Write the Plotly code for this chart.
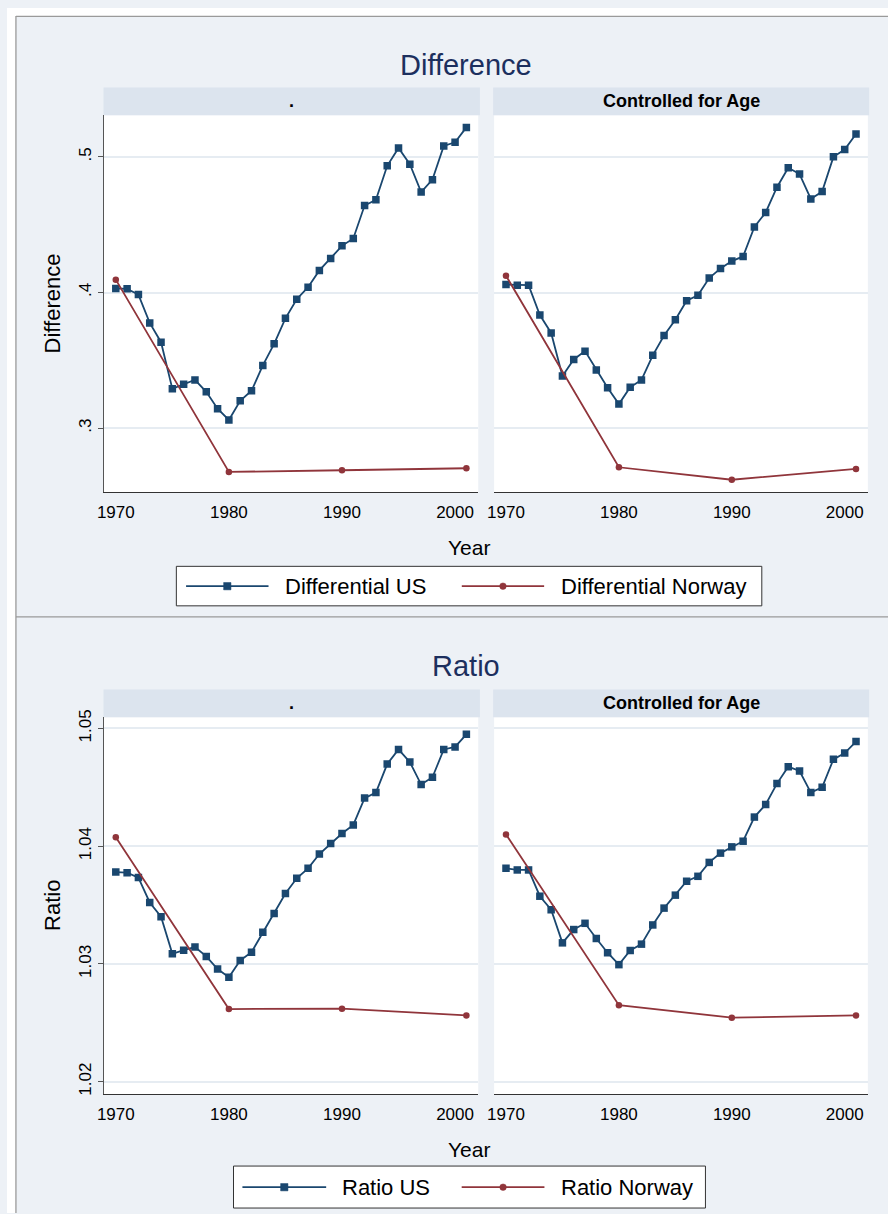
import plotly.graph_objects as go

# ---------------- data ----------------
years = list(range(1970, 2002))
years_norway = [1970, 1980, 1990, 2001]

diff_us = [0.403, 0.4027, 0.3985, 0.3776, 0.3634, 0.329, 0.3324, 0.3356, 0.3268, 0.3144,
           0.3061, 0.3202, 0.3276, 0.3463, 0.3622, 0.381, 0.3951, 0.4039, 0.4163, 0.4251,
           0.4344, 0.4398, 0.4641, 0.4683, 0.4934, 0.5066, 0.4946, 0.4741, 0.4832, 0.508,
           0.5107, 0.5217]
diff_norway = [0.4095, 0.2678, 0.269, 0.2705]

diff_us_age = [0.4059, 0.4054, 0.4054, 0.3834, 0.3702, 0.3385, 0.3507, 0.3568, 0.3429, 0.3298,
               0.3178, 0.3302, 0.3356, 0.3537, 0.3683, 0.380, 0.3939, 0.398, 0.4107, 0.4178,
               0.4232, 0.4266, 0.4483, 0.459, 0.4776, 0.492, 0.4873, 0.469, 0.4744, 0.500,
               0.5054, 0.5168]
diff_norway_age = [0.4124, 0.2712, 0.262, 0.270]

ratio_us = [1.0378, 1.03775, 1.03733, 1.03522, 1.03401, 1.03086, 1.03117, 1.03143, 1.03064, 1.02957,
            1.02887, 1.0303, 1.031, 1.03269, 1.03429, 1.03598, 1.03727, 1.03812, 1.03933, 1.04022,
            1.04107, 1.0418, 1.04408, 1.04455, 1.04697, 1.04821, 1.04714, 1.04523, 1.04585, 1.04821,
            1.04843, 1.0495]
ratio_norway = [1.04076, 1.02617, 1.0262, 1.02563]

ratio_us_age = [1.03812, 1.03798, 1.03798, 1.03575, 1.0346, 1.03179, 1.03292, 1.03345, 1.03216, 1.03095,
                1.02994, 1.03114, 1.03168, 1.03331, 1.03474, 1.03584, 1.03702, 1.03744, 1.03862, 1.03941,
                1.03994, 1.04042, 1.04247, 1.04354, 1.04531, 1.04675, 1.04638, 1.04455, 1.045, 1.04737,
                1.0479, 1.04888]
ratio_norway_age = [1.0410, 1.0265, 1.02544, 1.02563]

x_ticks = [1970, 1980, 1990, 2000]
diff_ticks = [0.3, 0.4, 0.5]
diff_ticktext = [".3", ".4", ".5"]
ratio_ticks = [1.02, 1.03, 1.04, 1.05]
ratio_ticktext = ["1.02", "1.03", "1.04", "1.05"]

titles = ["Difference", "Ratio"]
strip_labels = [".", "Controlled for Age"]
legend_diff = ["Differential US", "Differential Norway"]
legend_ratio = ["Ratio US", "Ratio Norway"]

# ---------------- style ----------------
W, H = 888, 1214
NAVY = "#1a476f"
MAROON = "#90353b"
BG = "#edf1f6"
STRIP = "#dce4ee"
GRID = "#e6ecf2"
TITLE_COL = "#1c2f5e"
FONT = "Liberation Sans, Arial, sans-serif"


def px(x):
    return x / W


def py(y):
    return 1 - y / H


fig = go.Figure()

panels = [
    (diff_us, diff_norway, "x", "y", legend_diff),
    (diff_us_age, diff_norway_age, "x2", "y2", legend_diff),
    (ratio_us, ratio_norway, "x3", "y3", legend_ratio),
    (ratio_us_age, ratio_norway_age, "x4", "y4", legend_ratio),
]
for us, nor, xa, ya, names in panels:
    fig.add_trace(go.Scatter(x=years, y=us, xaxis=xa, yaxis=ya, mode="lines+markers",
                             name=names[0], showlegend=False,
                             line=dict(color=NAVY, width=1.8),
                             marker=dict(symbol="square", size=7.5, color=NAVY)))
    fig.add_trace(go.Scatter(x=years_norway, y=nor, xaxis=xa, yaxis=ya, mode="lines+markers",
                             name=names[1], showlegend=False,
                             line=dict(color=MAROON, width=1.8),
                             marker=dict(symbol="circle", size=6.5, color=MAROON)))

xr = [1968.95, 2002.05]
dom_left = [px(97.7), px(475)]
dom_right = [px(491), px(867.7)]
dom_top = [py(488), py(108)]
dom_bot = [py(1094.3), py(714.5)]
diff_range = [0.2527, 0.5307]
ratio_range = [1.01894, 1.05095]


def xaxis(dom, anchor):
    return dict(domain=dom, anchor=anchor, range=xr, tickvals=x_ticks, showgrid=False,
                zeroline=False, showline=True, linecolor="#333333", linewidth=1,
                ticks="", ticklabelstandoff=4,
                tickfont=dict(family=FONT, size=17, color="black"))


def yaxis(dom, anchor, rng, tv, tt, left):
    d = dict(domain=dom, anchor=anchor, range=rng, tickvals=tv, ticktext=tt,
             showgrid=True, gridcolor=GRID, gridwidth=1.5, zeroline=False,
             tickfont=dict(family=FONT, size=17, color="black"))
    if left:
        d.update(showline=True, linecolor="#555555", linewidth=1, ticks="outside",
                 ticklen=5, tickcolor="#555555", tickangle=-90, showticklabels=True)
    else:
        d.update(showline=False, ticks="", showticklabels=False)
    return d


fig.update_layout(
    xaxis=xaxis(dom_left, "y"),
    yaxis=yaxis(dom_top, "x", diff_range, diff_ticks, diff_ticktext, True),
    xaxis2=xaxis(dom_right, "y2"),
    yaxis2=yaxis(dom_top, "x2", diff_range, diff_ticks, diff_ticktext, False),
    xaxis3=xaxis(dom_left, "y3"),
    yaxis3=yaxis(dom_bot, "x3", ratio_range, ratio_ticks, ratio_ticktext, True),
    xaxis4=xaxis(dom_right, "y4"),
    yaxis4=yaxis(dom_bot, "x4", ratio_range, ratio_ticks, ratio_ticktext, False),
)

shapes = []
annotations = []

# white outer margin + graph borders
shapes.append(dict(type="rect", xref="paper", yref="paper", x0=0, x1=px(9), y0=0, y1=1,
                   fillcolor="white", line=dict(width=0), layer="below"))
shapes.append(dict(type="rect", xref="paper", yref="paper", x0=0, x1=1, y0=py(8), y1=1,
                   fillcolor="white", line=dict(width=0), layer="below"))
for (x0, y0, x1, y1) in [(9, 8, 9, 1214), (9, 8.5, 888, 8.5), (9, 613.5, 888, 613.5)]:
    shapes.append(dict(type="line", xref="paper", yref="paper", x0=px(x0), x1=px(x1),
                       y0=py(y0), y1=py(y1), line=dict(color="#9a9a9a", width=1.3)))

# strips, titles
for g, (strip_top, strip_bot, title_y, year_y, ytitle_y) in enumerate(
        [(80, 108, 57, 544, 298), (686.7, 714.5, 663, 1150, 904)]):
    for (sx0, sx1), lab in zip([(97.3, 476.7), (490, 869)], strip_labels):
        shapes.append(dict(type="rect", xref="paper", yref="paper", x0=px(sx0), x1=px(sx1),
                           y0=py(strip_bot), y1=py(strip_top), fillcolor=STRIP,
                           line=dict(width=0), layer="below"))
        annotations.append(dict(xref="paper", yref="paper", x=px((sx0 + sx1) / 2),
                                y=py((strip_top + strip_bot) / 2), text=lab, showarrow=False,
                                xanchor="center", yanchor="middle",
                                font=dict(family=FONT, size=18, color="black", weight="bold")))
    annotations.append(dict(xref="paper", yref="paper", x=px(463), y=py(title_y),
                            text=titles[g], showarrow=False, xanchor="center", yanchor="middle",
                            font=dict(family=FONT, size=29, color=TITLE_COL)))
    annotations.append(dict(xref="paper", yref="paper", x=px(466), y=py(year_y),
                            text="Year", showarrow=False, xanchor="center", yanchor="middle",
                            font=dict(family=FONT, size=21, color="black")))
    annotations.append(dict(xref="paper", yref="paper", x=px(46), y=py(ytitle_y),
                            text=titles[g], showarrow=False, xanchor="center", yanchor="middle",
                            textangle=-90, font=dict(family=FONT, size=22, color="black")))

# manual legends (Stata style: long keys)
legend_specs = [
    dict(box=(170.7, 562.5, 760.8, 602.3), cy=582.5, names=legend_diff,
         keys=[(180.5, 263.6, 278), (458.4, 541.4, 556)]),
    dict(box=(228.3, 1166.7, 704, 1209), cy=1188, names=legend_ratio,
         keys=[(237.3, 321.7, 336), (458.3, 541.7, 556.7)]),
]
for spec in legend_specs:
    bx0, by0, bx1, by1 = spec["box"]
    shapes.append(dict(type="rect", xref="paper", yref="paper", x0=px(bx0), x1=px(bx1),
                       y0=py(by1), y1=py(by0), fillcolor="white",
                       line=dict(color="#333333", width=1)))
    cy = spec["cy"]
    for i, ((lx0, lx1, tx), name) in enumerate(zip(spec["keys"], spec["names"])):
        col = NAVY if i == 0 else MAROON
        shapes.append(dict(type="line", xref="paper", yref="paper", x0=px(lx0), x1=px(lx1),
                           y0=py(cy), y1=py(cy), line=dict(color=col, width=1.8)))
        mx = (lx0 + lx1) / 2
        r = 3.7 if i == 0 else 3.3
        shapes.append(dict(type="rect" if i == 0 else "circle", xref="paper", yref="paper",
                           x0=px(mx - r), x1=px(mx + r), y0=py(cy + r), y1=py(cy - r),
                           fillcolor=col, line=dict(color=col, width=0.5)))
        annotations.append(dict(xref="paper", yref="paper", x=px(tx), y=py(cy), text=name,
                                showarrow=False, xanchor="left", yanchor="middle",
                                font=dict(family=FONT, size=22, color="black")))

fig.update_layout(
    width=W, height=H,
    margin=dict(l=0, r=0, t=0, b=0),
    paper_bgcolor=BG,
    plot_bgcolor="white",
    showlegend=False,
    shapes=shapes,
    annotations=annotations,
    font=dict(family=FONT),
)

# place the figure at the window origin (no default body margin / scrollbars)
fig.write_html("out.html",
               config={"displayModeBar": False},
               post_script="document.body.style.margin='0';document.body.style.overflow='hidden';")
